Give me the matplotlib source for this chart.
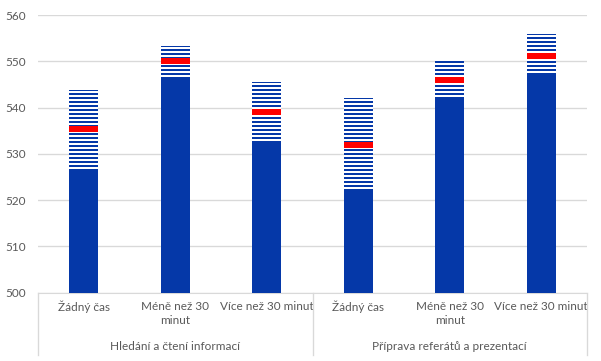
import matplotlib
matplotlib.use("Agg")
import matplotlib.pyplot as plt
from matplotlib.transforms import blended_transform_factory

categories = ["Žádný čas", "Méně než 30\nminut", "Více než 30 minut",
              "Žádný čas", "Méně než 30\nminut", "Více než 30 minut"]
groups = ["Hledání a čtení informací", "Příprava referátů a prezentací"]
lower = [526.6, 546.5, 532.6, 522.2, 542.1, 547.4]
mean = [535.3, 550.1, 539.1, 532.0, 546.0, 551.2]
upper = [543.9, 553.4, 545.6, 542.1, 550.5, 555.8]
y_ticks = [500, 510, 520, 530, 540, 550, 560]

BLUE = "#0538a8"
RED = "#ff0000"
GRAY = "#595959"
GRID = "#d9d9d9"
BASE = 500
MARK = 1.3
DPI = 96
FS = 8.8

plt.rcParams["font.family"] = ["Lato", "DejaVu Sans"]
plt.rcParams["hatch.linewidth"] = 1.5
plt.rcParams["hatch.color"] = BLUE

fig = plt.figure(figsize=(601 / DPI, 361 / DPI), dpi=DPI)
ax = fig.add_axes([38/601, 68.3/361, 549/601, 277.7/361])

x = list(range(len(categories)))
w = 0.32
ax.bar(x, [l - BASE for l in lower], bottom=BASE, width=w, color=BLUE, zorder=3)
ax.bar(x, [u - l for u, l in zip(upper, lower)], bottom=lower, width=w,
       color="white", edgecolor=BLUE, hatch="----", linewidth=0, zorder=3)
ax.bar(x, [MARK] * len(x), bottom=[m - MARK / 2 for m in mean], width=w,
       color=RED, zorder=4)

ax.set_xlim(-0.5, 5.5)
ax.set_ylim(500, 560)
ax.set_yticks(y_ticks)
ax.set_yticklabels([str(t) for t in y_ticks], color=GRAY, fontsize=FS)
ax.tick_params(axis="y", length=0, pad=9)
ax.grid(axis="y", color=GRID, linewidth=1, zorder=0)
ax.set_axisbelow(True)

ax.set_xticks(x)
ax.set_xticklabels(categories, color=GRAY, fontsize=FS, linespacing=1.35)
ax.tick_params(axis="x", length=0, pad=6)

for s in ["left", "right", "top"]:
    ax.spines[s].set_visible(False)
ax.spines["bottom"].set_color(GRID)

tr = blended_transform_factory(ax.transData, ax.transAxes)
ybot = -(355 - 292.7) / 277.7
for xv in [-0.5, 2.5, 5.5]:
    ax.plot([xv, xv], [0, ybot], transform=tr, color=GRID, lw=1, clip_on=False)
for i, g in enumerate(groups):
    ax.text(1 + 3 * i, -(346 - 292.7) / 277.7, g, transform=tr, ha="center",
            va="center", color=GRAY, fontsize=FS)

fig.savefig("out.png", dpi=DPI)
